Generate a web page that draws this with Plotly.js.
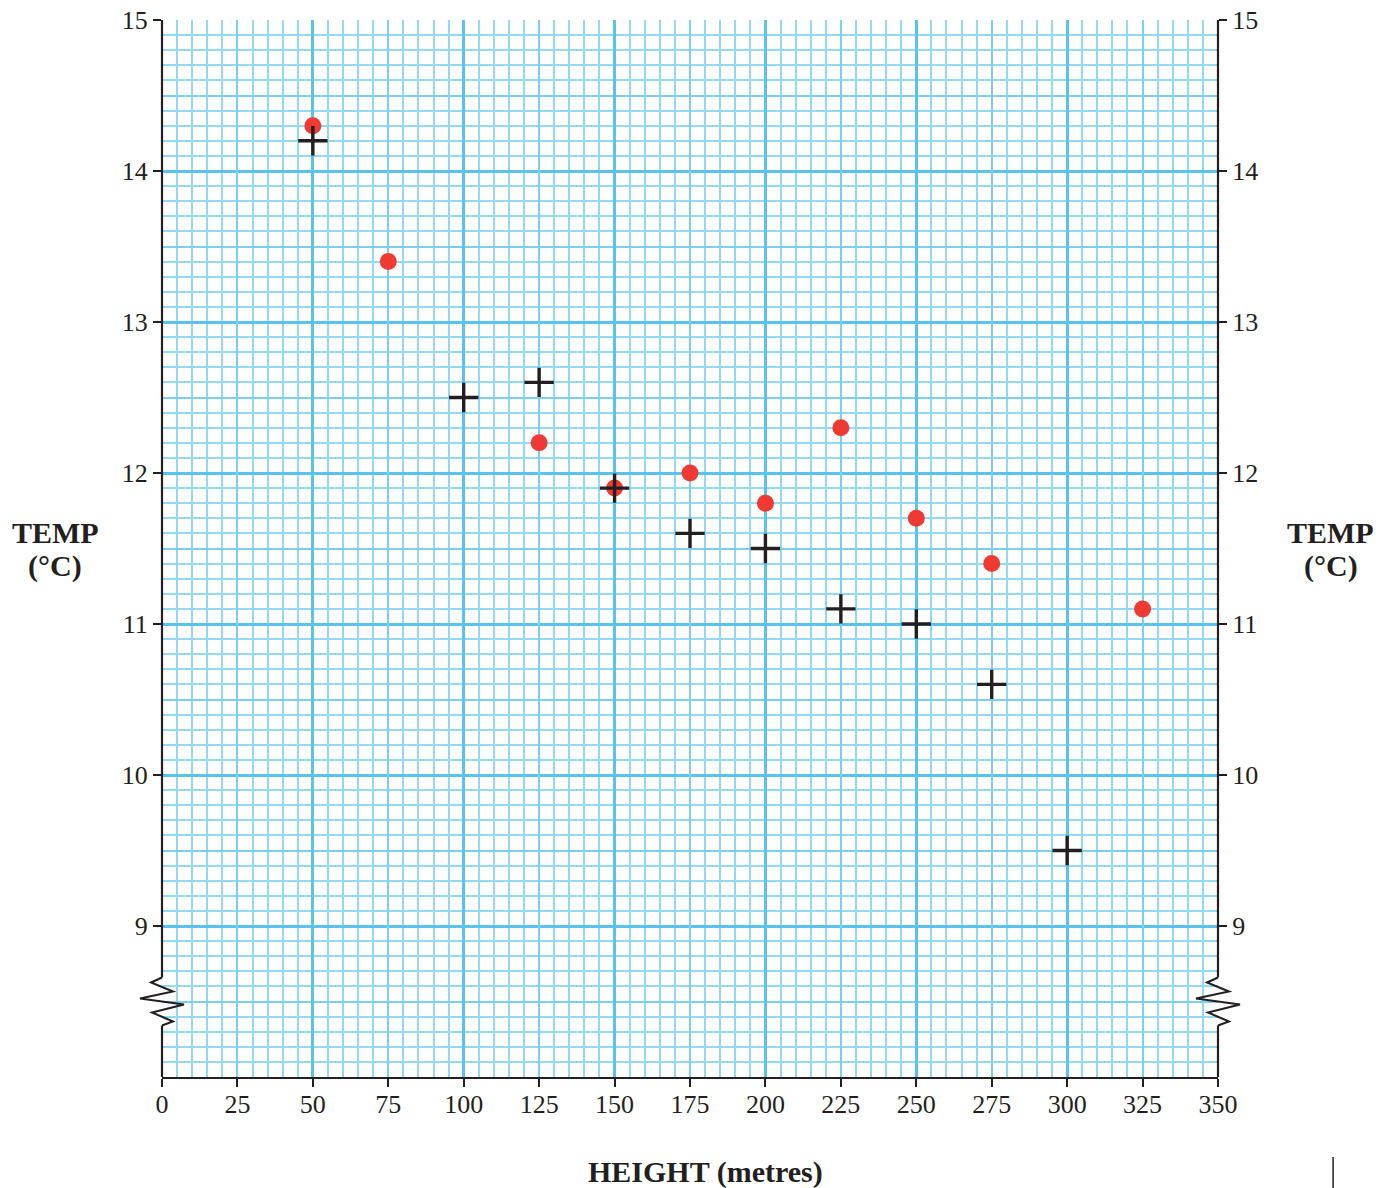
<!DOCTYPE html>
<html>
<head>
<meta charset="utf-8">
<script src="https://cdn.plot.ly/plotly-3.0.1.min.js"></script>
<style>
  html, body { margin: 0; padding: 0; background: #ffffff; }
  #chart { width: 1392px; height: 1188px; }
</style>
</head>
<body>
<div id="chart"></div>
<script>
// ---- data ----
const circleHeight = [50, 75, 125, 150, 175, 200, 225, 250, 275, 325];
const circleTemp   = [14.3, 13.4, 12.2, 11.9, 12.0, 11.8, 12.3, 11.7, 11.4, 11.1];
const crossHeight  = [50, 100, 125, 150, 175, 200, 225, 250, 275, 300];
const crossTemp    = [14.2, 12.5, 12.6, 11.9, 11.6, 11.5, 11.1, 11.0, 10.6, 9.5];
const xTickVals = [0, 25, 50, 75, 100, 125, 150, 175, 200, 225, 250, 275, 300, 325, 350];
const yTickVals = [9, 10, 11, 12, 13, 14, 15];
const xRange = [0, 350];
const yRange = [8, 15];
const xTitle = 'HEIGHT (metres)';
const yTitleTop = 'TEMP';
const yTitleUnit = '(°C)';

// ---- styles ----
const ink = '#231f20';
const minorColor = '#92d9f4';
const mediumColor = '#7bd0f2';
const majorColor = '#58c4ee';
const serif = 'Liberation Serif, Times New Roman, serif';
const tickFont = { family: serif, size: 26, color: ink };
const titleFont = { family: serif, size: 30, color: ink };

function helper(xa, ya) {
  return { type: 'scatter', x: [], y: [], xaxis: xa, yaxis: ya, showlegend: false, hoverinfo: 'skip' };
}

const traces = [
  helper('x2', 'y'), helper('x3', 'y'), helper('x4', 'y'),
  helper('x', 'y2'), helper('x', 'y3'), helper('x', 'y4'),
  { type: 'scatter', mode: 'markers', x: circleHeight, y: circleTemp, xaxis: 'x', yaxis: 'y',
    marker: { symbol: 'circle', size: 17, color: '#ee3a32', line: { width: 0 } },
    hoverinfo: 'x+y', showlegend: false, cliponaxis: false },
  { type: 'scatter', mode: 'markers', x: crossHeight, y: crossTemp, xaxis: 'x', yaxis: 'y',
    marker: { symbol: 'cross-thin', size: 21, color: ink, line: { width: 3.4, color: ink } },
    hoverinfo: 'x+y', showlegend: false, cliponaxis: false }
];

const zigzag = 'M0,24 L-11,19 L11,10 L-22,3 L22,-3 L-10,-11 L11,-20 L0,-24';
const breakTop = 8.5 + 24 / 151;
const breakBot = 8.5 - 24 / 151;

function axisSegments(px) {
  return [
    { type: 'line', xref: 'paper', yref: 'y', x0: px, x1: px, y0: breakTop, y1: yRange[1],
      line: { color: ink, width: 2.2 } },
    { type: 'line', xref: 'paper', yref: 'y', x0: px, x1: px, y0: yRange[0], y1: breakBot,
      line: { color: ink, width: 2.2 } },
    { type: 'path', xref: 'paper', yref: 'y', xsizemode: 'pixel', ysizemode: 'pixel',
      xanchor: px, yanchor: 8.5, path: zigzag, line: { color: ink, width: 2 } }
  ];
}

function gridAxis(range, tick0, dtick, color, width, overlay) {
  const a = { range: range, tickmode: 'linear', tick0: tick0, dtick: dtick,
    showticklabels: false, ticks: '', showline: false, zeroline: false,
    showgrid: true, gridcolor: color, gridwidth: width };
  if (overlay) { a.overlaying = overlay; }
  return a;
}

const xMinor = gridAxis(xRange, 0, 5, minorColor, 2, null);
const yMinor = gridAxis(yRange, 8, 0.1, minorColor, 2, null);

const xMedium = gridAxis(xRange, 25, 50, mediumColor, 2, 'x'); xMedium.anchor = 'y';
const xMajor = gridAxis(xRange, 0, 50, majorColor, 3, 'x'); xMajor.anchor = 'y';
const yMedium = gridAxis(yRange, 8.5, 1, mediumColor, 2, 'y'); yMedium.anchor = 'x';

const layout = {
  width: 1392, height: 1188,
  margin: { l: 162, r: 174, t: 20, b: 111 },
  paper_bgcolor: '#ffffff', plot_bgcolor: '#ffffff',
  showlegend: false,
  xaxis: xMinor,
  yaxis: yMinor,
  // bottom labels + axis line
  xaxis2: {
    overlaying: 'x', anchor: 'y', side: 'bottom', range: xRange, tickmode: 'array', tickvals: xTickVals,
    ticks: 'outside', ticklen: 8, tickwidth: 2, tickcolor: ink, ticklabelstandoff: -5,
    showline: true, linecolor: ink, linewidth: 2.2,
    showgrid: false, zeroline: false, tickfont: tickFont
  },
  xaxis3: xMedium,
  xaxis4: xMajor,
  // left labels + major horizontal grid
  yaxis2: {
    overlaying: 'y', anchor: 'x', side: 'left', range: yRange, tickmode: 'array', tickvals: yTickVals,
    ticks: 'outside', ticklen: 8, tickwidth: 2, tickcolor: ink,
    showline: false, zeroline: false, tickfont: tickFont,
    showgrid: true, gridcolor: majorColor, gridwidth: 3
  },
  // right labels
  yaxis3: {
    overlaying: 'y', side: 'right', anchor: 'x', range: yRange, tickmode: 'array', tickvals: yTickVals,
    ticks: 'outside', ticklen: 8, tickwidth: 2, tickcolor: ink,
    showline: false, zeroline: false, showgrid: false, tickfont: tickFont
  },
  yaxis4: yMedium,
  shapes: [].concat(
    axisSegments(0), axisSegments(1),
    [{ type: 'line', xref: 'paper', yref: 'paper', x0: 1.109, x1: 1.109, y0: -0.0757, y1: -0.105,
       line: { color: ink, width: 1.5 } }]
  ),
  annotations: [
    { text: '<b>' + yTitleTop + '</b>', xref: 'paper', yref: 'paper', x: -0.1013, y: 0.5147,
      xanchor: 'center', yanchor: 'middle', showarrow: false, font: titleFont },
    { text: '<b>' + yTitleUnit + '</b>', xref: 'paper', yref: 'paper', x: -0.1013, y: 0.4834,
      xanchor: 'center', yanchor: 'middle', showarrow: false, font: titleFont },
    { text: '<b>' + yTitleTop + '</b>', xref: 'paper', yref: 'paper', x: 1.107, y: 0.5147,
      xanchor: 'center', yanchor: 'middle', showarrow: false, font: titleFont },
    { text: '<b>' + yTitleUnit + '</b>', xref: 'paper', yref: 'paper', x: 1.107, y: 0.4834,
      xanchor: 'center', yanchor: 'middle', showarrow: false, font: titleFont },
    { text: '<b>' + xTitle + '</b>', xref: 'paper', yref: 'paper', x: 0.515, y: -0.0899,
      xanchor: 'center', yanchor: 'middle', showarrow: false, font: titleFont }
  ]
};

Plotly.newPlot('chart', traces, layout, { staticPlot: true, displayModeBar: false });
</script>
</body>
</html>
